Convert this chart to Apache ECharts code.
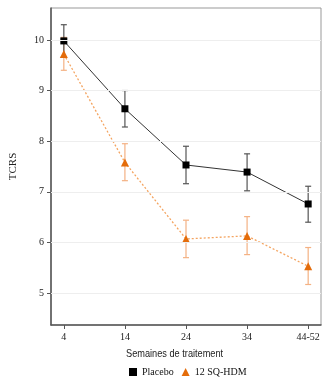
<!DOCTYPE html>
<html><head><meta charset="utf-8">
<script src="https://cdn.jsdelivr.net/npm/echarts@6/dist/echarts.min.js"></script>
<style>html,body{margin:0;padding:0;background:#fff}#c{width:330px;height:378px}</style>
</head><body><div id="c"></div>
<script>
const weeks = ['4', '14', '24', '34', '44-52'];
const yTicks = [5, 6, 7, 8, 9, 10];
const placeboMean = [9.98, 8.64, 7.53, 7.39, 6.76];
const placeboLow  = [9.66, 8.28, 7.16, 7.02, 6.40];
const placeboHigh = [10.30, 9.00, 7.90, 7.75, 7.11];
const hdmMean = [9.72, 7.58, 6.07, 6.13, 5.53];
const hdmLow  = [9.40, 7.22, 5.70, 5.76, 5.17];
const hdmHigh = [10.05, 7.95, 6.44, 6.51, 5.90];

const serif = '"Liberation Serif", "DejaVu Serif", serif';
const xIdx = weeks.map((w, i) => i);

function errSeries(name, low, high, color) {
  return {
    type: 'custom', name: name + ' err', z: 1, silent: true,
    data: low.map((l, i) => [i, l, high[i]]),
    renderItem: function (params, api) {
      const x = api.value(0);
      const p1 = api.coord([x, api.value(1)]);
      const p2 = api.coord([x, api.value(2)]);
      const w = 3;
      const st = { stroke: color, lineWidth: 1.2 };
      return { type: 'group', children: [
        { type: 'line', shape: { x1: p1[0], y1: p1[1], x2: p2[0], y2: p2[1] }, style: st },
        { type: 'line', shape: { x1: p1[0] - w, y1: p1[1], x2: p1[0] + w, y2: p1[1] }, style: st },
        { type: 'line', shape: { x1: p2[0] - w, y1: p2[1], x2: p2[0] + w, y2: p2[1] }, style: st }
      ]};
    }
  };
}

const chart = echarts.init(document.getElementById('c'), null, { renderer: 'canvas' });
chart.setOption({
  animation: false,
  backgroundColor: '#fff',
  grid: { left: 49, right: 9, top: 8, bottom: 53, show: true, borderColor: '#999', borderWidth: 1 },
  xAxis: {
    type: 'value', min: -0.21, max: 4.21,
    axisLine: { show: true, onZero: false, lineStyle: { color: '#555', width: 1.5 } },
    axisTick: { show: true, customValues: xIdx, length: 4, lineStyle: { color: '#555' } },
    axisLabel: { customValues: xIdx, formatter: v => weeks[Math.round(v)], fontFamily: serif, fontSize: 10, color: '#222', margin: 7 },
    splitLine: { show: false }
  },
  yAxis: {
    type: 'value', min: 4.37, max: 10.63,
    name: 'TCRS', nameLocation: 'middle', nameGap: 32,
    nameTextStyle: { fontFamily: serif, fontSize: 11, color: '#222' },
    axisLine: { show: true, onZero: false, lineStyle: { color: '#555', width: 1.5 } },
    axisTick: { show: true, customValues: yTicks, length: 4, lineStyle: { color: '#555' } },
    axisLabel: { customValues: yTicks, fontFamily: serif, fontSize: 10, color: '#222', margin: 7 },
    splitLine: { show: false }
  },
  legend: {
    left: 127, top: 365, itemGap: 8, itemWidth: 8, itemHeight: 8, padding: 2,
    textStyle: { fontFamily: serif, fontSize: 10, color: '#111' },
    data: [{ name: 'Placebo', icon: 'rect' }, { name: '12 SQ-HDM', icon: 'triangle' }]
  },
  graphic: [{
    type: 'text', x: 126, y: 348, scaleX: 0.8,
    style: { text: 'Semaines de traitement', fontFamily: '"Liberation Sans", sans-serif', fontSize: 11.5, fill: '#222' }
  }],
  series: [
    {
      type: 'line', name: 'grid', silent: true, data: [], z: 0,
      markLine: { silent: true, symbol: 'none', label: { show: false },
        lineStyle: { color: '#eeeeee', type: 'solid', width: 1 },
        data: yTicks.map(v => ({ yAxis: v })) }
    },
    errSeries('12 SQ-HDM', hdmLow, hdmHigh, '#f4b183'),
    errSeries('Placebo', placeboLow, placeboHigh, '#555555'),
    {
      type: 'line', name: '12 SQ-HDM', z: 3,
      data: hdmMean.map((v, i) => [i, v]),
      symbol: 'triangle', symbolSize: 8,
      itemStyle: { color: '#e46c0a' },
      lineStyle: { color: '#f4a460', width: 1.3, type: [2, 2] }
    },
    {
      type: 'line', name: 'Placebo', z: 4,
      data: placeboMean.map((v, i) => [i, v]),
      symbol: 'rect', symbolSize: 7,
      itemStyle: { color: '#000' },
      lineStyle: { color: '#333', width: 1 }
    }
  ]
});
</script></body></html>
